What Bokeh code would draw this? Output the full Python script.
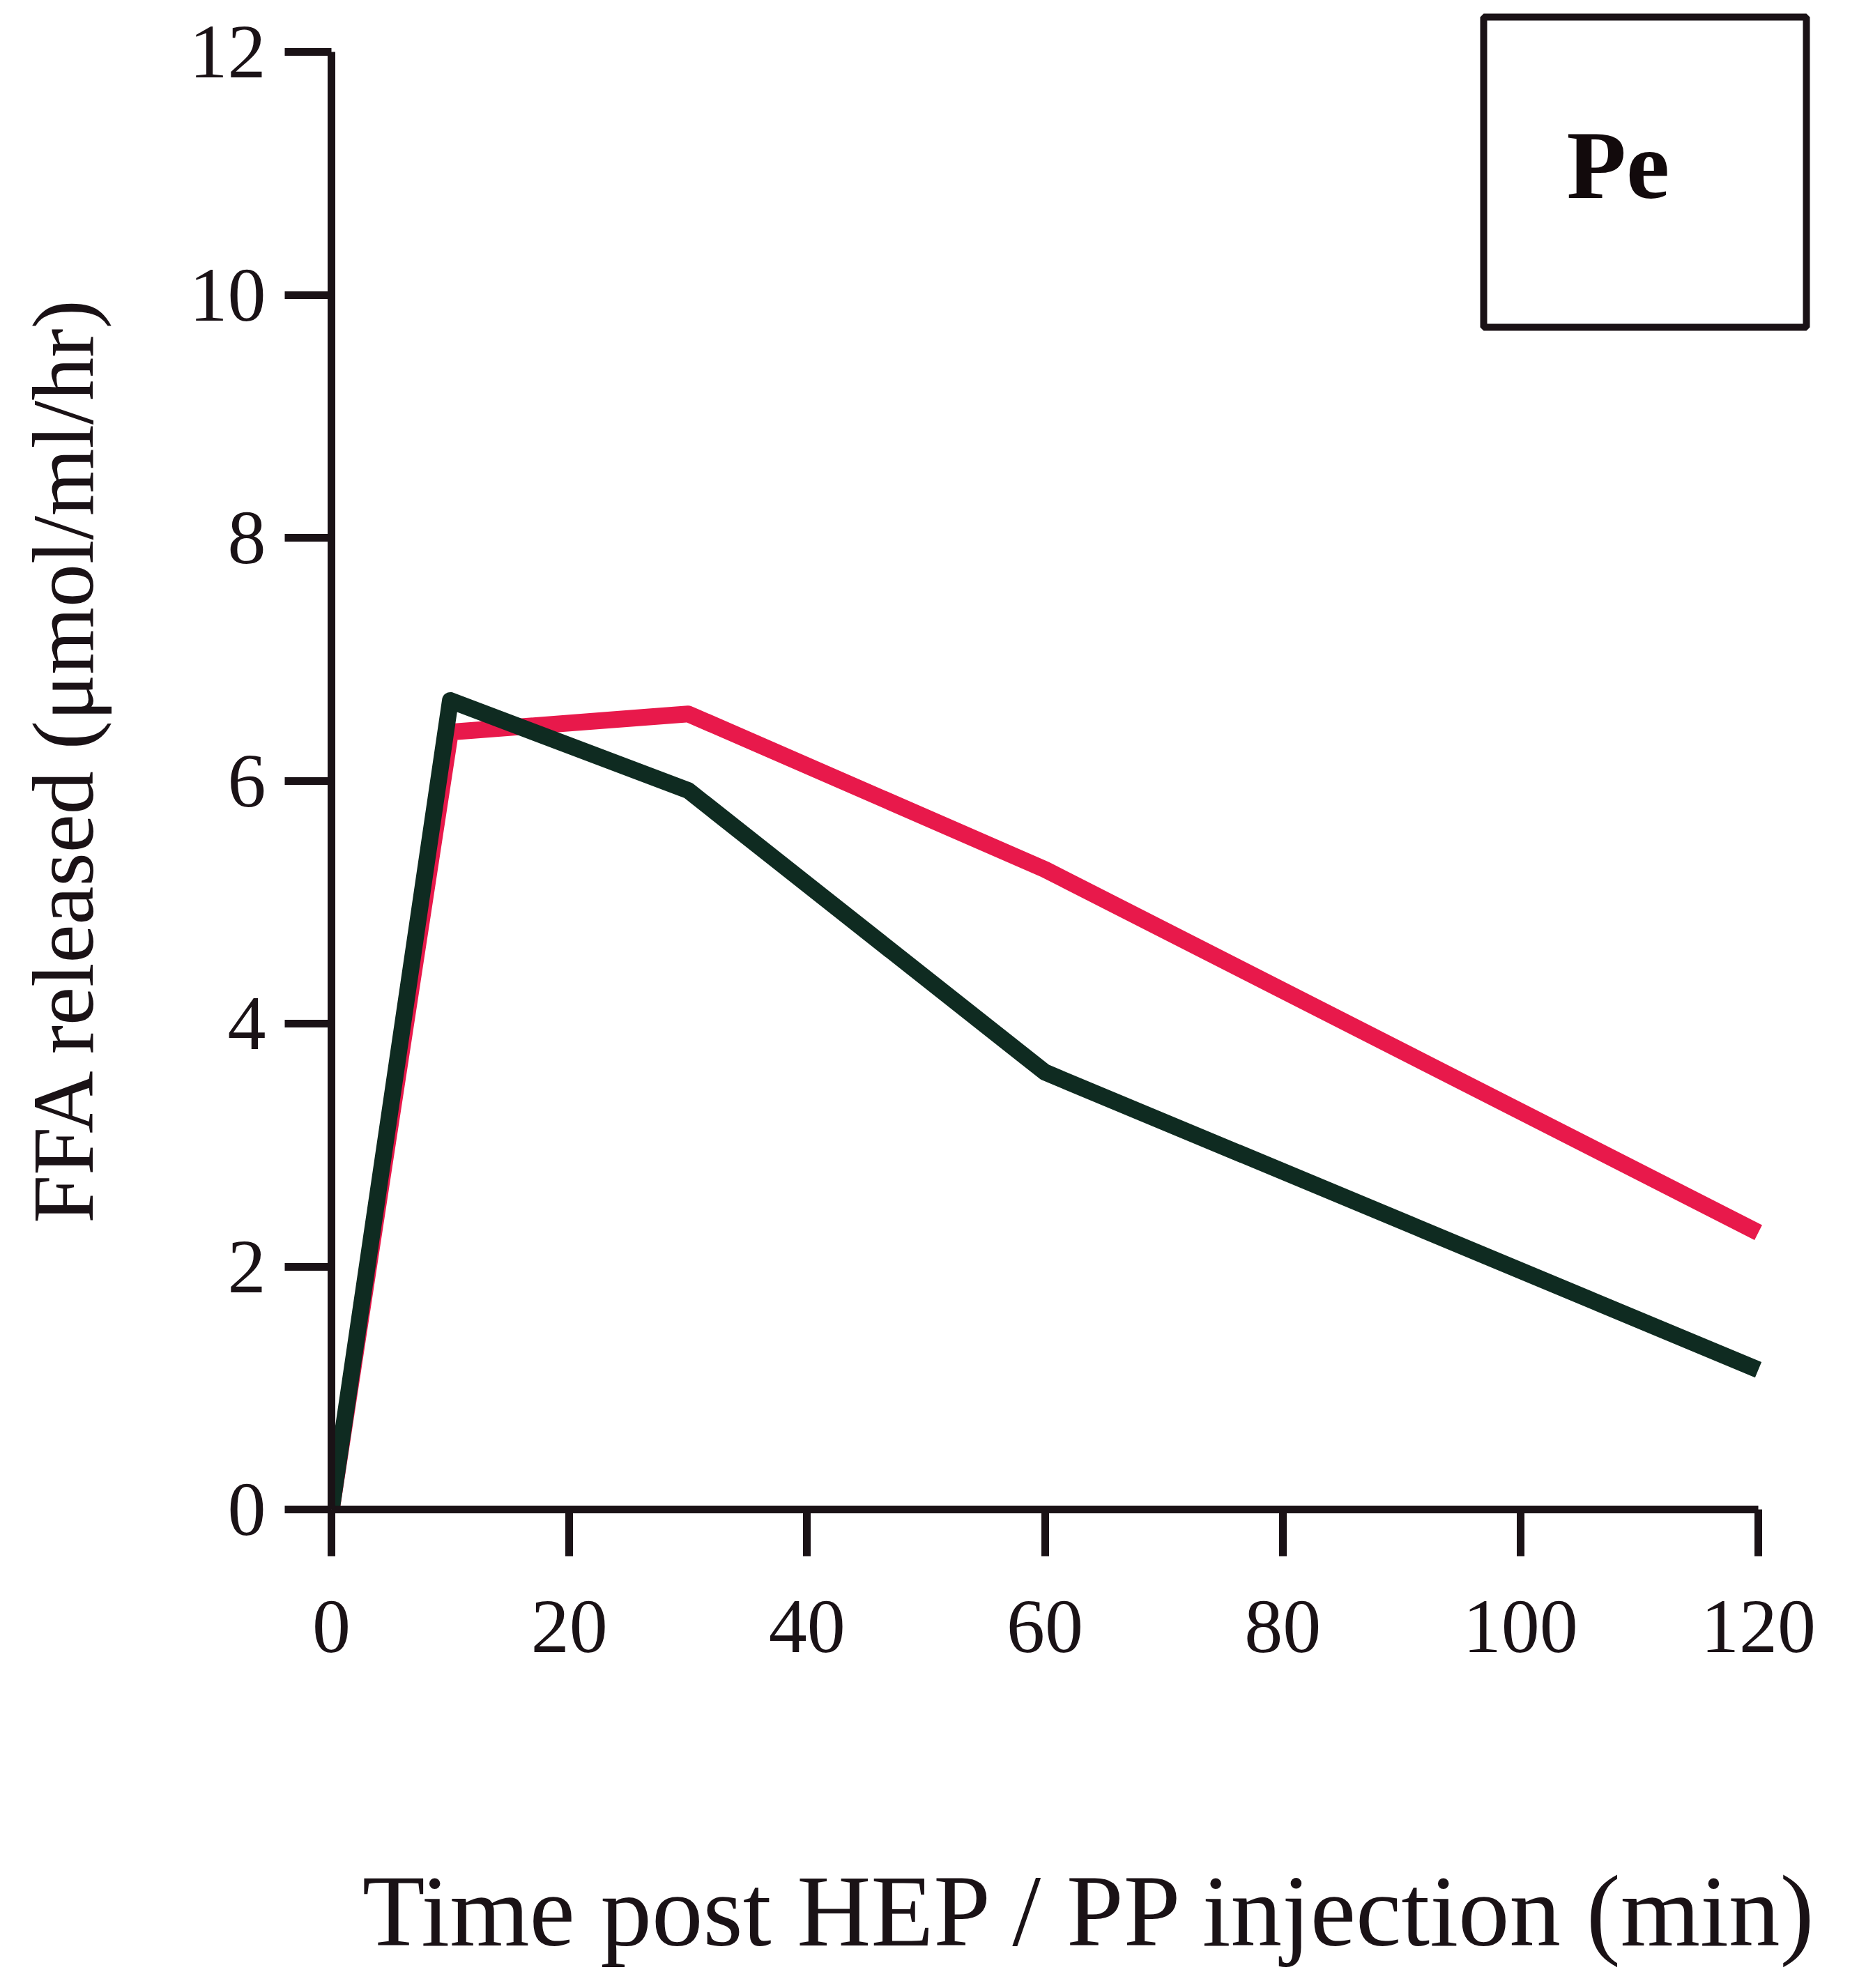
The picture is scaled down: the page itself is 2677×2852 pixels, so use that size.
from bokeh.plotting import figure
from bokeh.models import Range1d, FixedTicker, BoxAnnotation, Label
from bokeh.embed import file_html
from bokeh.resources import INLINE

# ---- data ----
time_min = [0, 10, 30, 60, 120]
red_ffa = [0.0, 6.40, 6.55, 5.27, 2.28]
green_ffa = [0.0, 6.66, 5.92, 3.60, 1.15]
x_ticks = [0, 20, 40, 60, 80, 100, 120]
y_ticks = [0, 2, 4, 6, 8, 10, 12]
x_title = "Time post HEP / PP injection (min)"
y_title = "FFA released (\u03bcmol/ml/hr)"
panel_label = "Pe"

RED = "#e8194b"
GREEN = "#0f2b21"
INK = "#1a1216"
FONT = "Liberation Serif"

PX_X = 2047 / 120.0   # pixels per minute
PX_Y = 2091 / 12.0    # pixels per unit
FW = 2182
FH = 2153

p = figure(frame_width=FW, frame_height=FH,
           x_range=Range1d(0, FW / PX_X), y_range=Range1d(0, FH / PX_Y),
           output_backend="svg", toolbar_location=None,
           min_border_left=475, min_border_top=12,
           min_border_right=4, min_border_bottom=663)
p.outline_line_color = None
p.xgrid.visible = False
p.ygrid.visible = False
p.background_fill_color = "white"
p.border_fill_color = "white"

for ax, ticks, bnds in ((p.xaxis[0], x_ticks, (0, 120)), (p.yaxis[0], y_ticks, (0, 12))):
    ax.bounds = bnds
    ax.ticker = FixedTicker(ticks=ticks)
    ax.axis_line_width = 11
    ax.axis_line_color = INK
    ax.major_tick_line_width = 11
    ax.major_tick_line_color = INK
    ax.major_tick_out = 67
    ax.major_tick_in = 0
    ax.minor_tick_out = 0
    ax.minor_tick_in = 0
    ax.major_label_text_font = FONT
    ax.major_label_text_font_size = "110px"
    ax.major_label_text_color = INK
    ax.axis_label_text_font = FONT
    ax.axis_label_text_font_style = "normal"
    ax.axis_label_text_color = INK

p.xaxis[0].axis_label = x_title
p.xaxis[0].axis_label_text_font_size = "147px"
p.xaxis[0].major_label_standoff = 64
p.xaxis[0].axis_label_standoff = 287

p.yaxis[0].axis_label = y_title
p.yaxis[0].axis_label_text_font_size = "124px"
p.yaxis[0].major_label_standoff = 27
p.yaxis[0].axis_label_standoff = 109

p.line(time_min, red_ffa, line_color=RED, line_width=24, line_join="round")
p.line(time_min, green_ffa, line_color=GREEN, line_width=24, line_join="round")

# panel label box
box = BoxAnnotation(left=(2136 - 483) / PX_X, right=(2599 - 483) / PX_X,
                    top=(2173 - 32) / PX_Y, bottom=(2173 - 477) / PX_Y,
                    fill_color=None, fill_alpha=0, line_color=INK, line_alpha=1.0,
                    line_width=10)
p.add_layout(box)
p.add_layout(Label(x=(2255 - 483) / PX_X, y=(2173 - 244) / PX_Y, text=panel_label,
                   text_font=FONT, text_font_style="bold", text_font_size="140px",
                   text_color="#120a0c", text_baseline="alphabetic", text_align="left"))

open("out.html", "w").write(file_html(p, INLINE))
